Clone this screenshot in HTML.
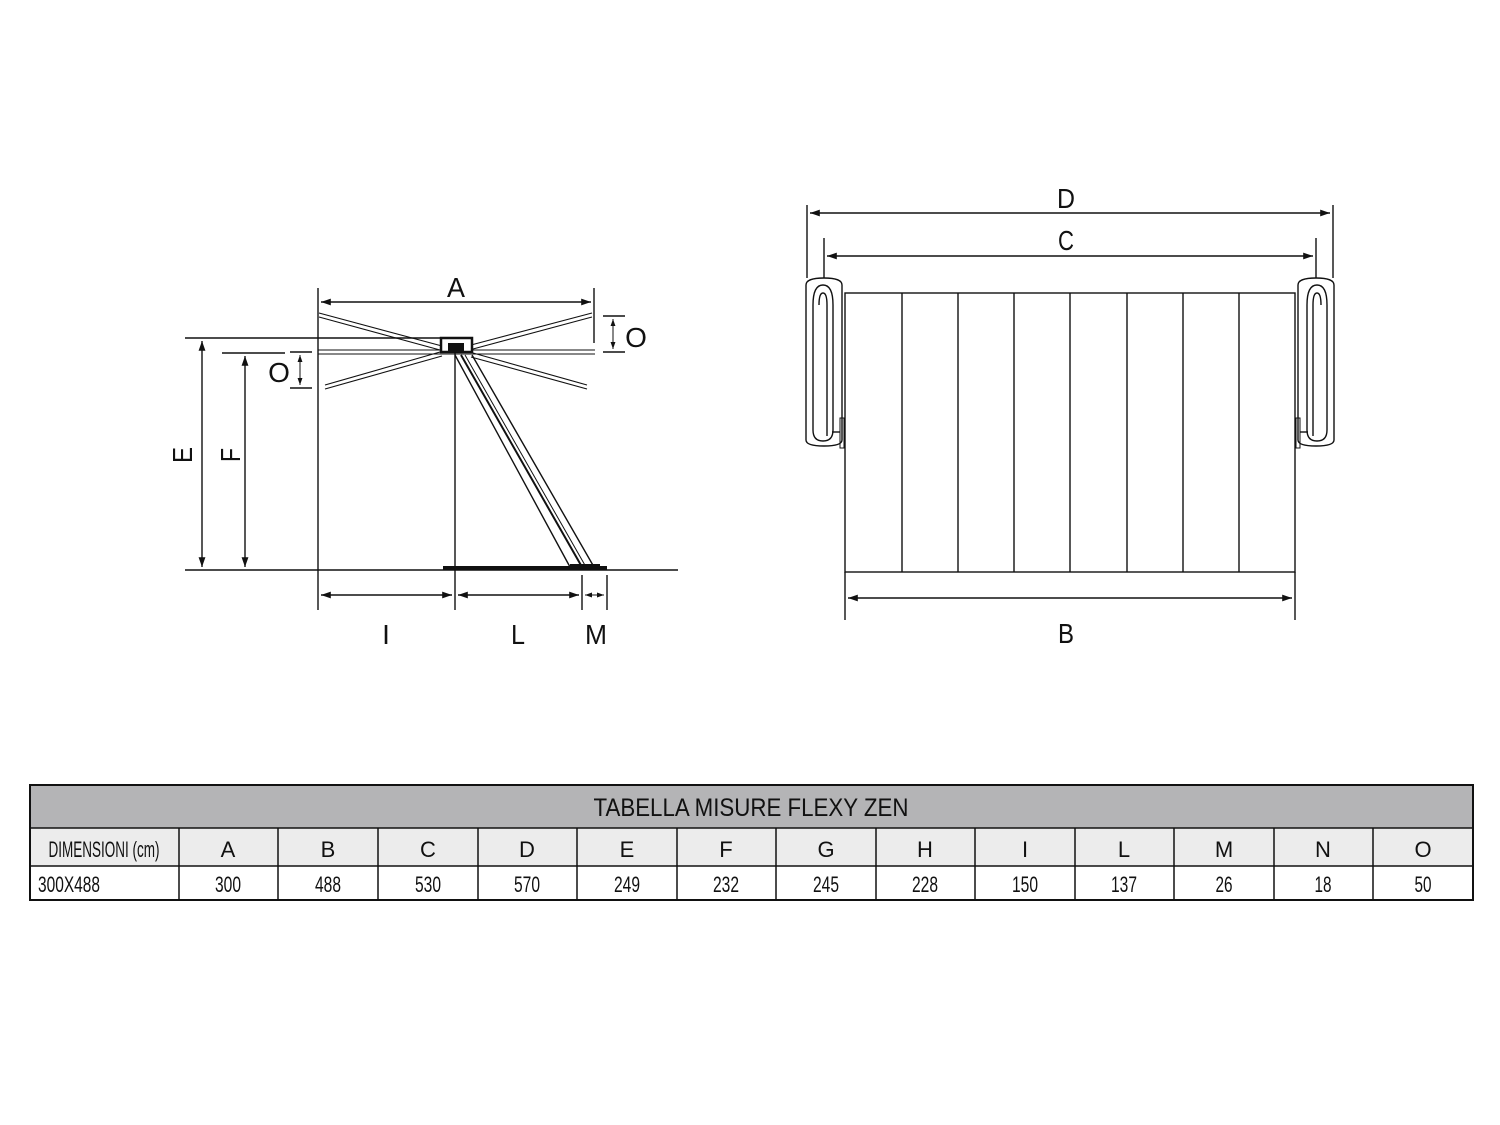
<!DOCTYPE html>
<html><head><meta charset="utf-8"><style>
html,body{margin:0;padding:0;background:#fff;}
svg{display:block}
text{font-family:"Liberation Sans",sans-serif;fill:#111}
</style></head><body>
<svg width="1500" height="1125" viewBox="0 0 1500 1125" xmlns="http://www.w3.org/2000/svg">
<defs>
<marker id="ar" viewBox="0 0 10 10" refX="10" refY="5" markerWidth="7" markerHeight="7" orient="auto-start-reverse"><path d="M0,1.5 L10,5 L0,8.5 z" fill="#111"/></marker>
</defs>
<g stroke="#111" fill="none" stroke-width="1.4">
<!-- LEFT DIAGRAM -->
<line x1="185" y1="570" x2="678" y2="570"/>
<line x1="185" y1="338" x2="440" y2="338"/>
<line x1="222" y1="353" x2="285" y2="353"/>
<line x1="202" y1="341" x2="202" y2="567" marker-start="url(#ar)" marker-end="url(#ar)"/>
<line x1="245" y1="356" x2="245" y2="567" marker-start="url(#ar)" marker-end="url(#ar)"/>
<line x1="318" y1="288" x2="318" y2="610"/>
<line x1="594" y1="288" x2="594" y2="343"/>
<line x1="321" y1="302" x2="591" y2="302" marker-start="url(#ar)" marker-end="url(#ar)"/>
<g stroke-width="1.1">
<line x1="319" y1="313" x2="442" y2="346"/><line x1="319" y1="317" x2="440" y2="350"/>
<line x1="592" y1="313" x2="471" y2="345"/><line x1="592" y1="317" x2="473" y2="349"/>
<line x1="318" y1="350" x2="595" y2="350"/><line x1="318" y1="354" x2="595" y2="354"/>
<line x1="325" y1="385" x2="440" y2="352"/><line x1="325" y1="389" x2="442" y2="356"/>
<line x1="587" y1="385" x2="473" y2="353"/><line x1="587" y1="389" x2="471" y2="357"/>
</g>
<rect x="441" y="338" width="31" height="14" fill="#fff" stroke-width="2.5"/>
<rect x="448" y="343" width="16" height="8" fill="#111" stroke="none"/>
<line x1="455" y1="352" x2="455" y2="610"/>
<line x1="455" y1="355" x2="570" y2="567"/>
<line x1="461" y1="355" x2="582" y2="567" stroke-width="2"/>
<line x1="465" y1="355" x2="586" y2="567" stroke-width="1"/>
<line x1="472" y1="355" x2="594" y2="567"/>
<line x1="443" y1="568" x2="607" y2="568" stroke-width="4"/>
<line x1="570" y1="566" x2="600" y2="566" stroke-width="4"/>
<line x1="603" y1="316" x2="625" y2="316"/><line x1="603" y1="352" x2="625" y2="352"/>
<line x1="613" y1="319" x2="613" y2="349" marker-start="url(#ar)" marker-end="url(#ar)" stroke-width="1"/>
<line x1="290" y1="352" x2="312" y2="352"/><line x1="290" y1="388" x2="312" y2="388"/>
<line x1="300" y1="355" x2="300" y2="385" marker-start="url(#ar)" marker-end="url(#ar)" stroke-width="1"/>
<line x1="582" y1="575" x2="582" y2="610"/><line x1="607" y1="575" x2="607" y2="610"/>
<line x1="321" y1="595" x2="452" y2="595" marker-start="url(#ar)" marker-end="url(#ar)"/>
<line x1="458" y1="595" x2="579" y2="595" marker-start="url(#ar)" marker-end="url(#ar)"/>
<line x1="585" y1="595" x2="604" y2="595" marker-start="url(#ar)" marker-end="url(#ar)" stroke-width="1"/>

<!-- RIGHT DIAGRAM -->
<line x1="807" y1="205" x2="807" y2="278"/><line x1="1333" y1="205" x2="1333" y2="278"/>
<line x1="824" y1="238" x2="824" y2="278"/><line x1="1316" y1="238" x2="1316" y2="278"/>
<line x1="810" y1="213" x2="1330" y2="213" marker-start="url(#ar)" marker-end="url(#ar)"/>
<line x1="827" y1="256" x2="1313" y2="256" marker-start="url(#ar)" marker-end="url(#ar)"/>
<rect x="845" y="293" width="450" height="279"/>
<line x1="902" y1="293" x2="902" y2="572"/><line x1="958" y1="293" x2="958" y2="572"/>
<line x1="1014" y1="293" x2="1014" y2="572"/><line x1="1070" y1="293" x2="1070" y2="572"/>
<line x1="1127" y1="293" x2="1127" y2="572"/><line x1="1183" y1="293" x2="1183" y2="572"/>
<line x1="1239" y1="293" x2="1239" y2="572"/>
<line x1="845" y1="572" x2="845" y2="620"/><line x1="1295" y1="572" x2="1295" y2="620"/>
<line x1="848" y1="598" x2="1292" y2="598" marker-start="url(#ar)" marker-end="url(#ar)"/>
<g id="br">
<path d="M806,285 Q806,278 824,278 Q842,278 842,285 L842,440 Q842,446 824,446 Q806,446 806,440 Z"/>
<path d="M813,305 Q813,285 823,285 Q833,285 833,305 L833,430 Q833,441 823,441 Q813,441 813,430 Z"/>
<path d="M819,305 Q819,293 823,293 Q827,293 827,305 L827,436"/>
<rect x="840" y="418" width="4" height="30" stroke-width="1"/>
<line x1="832" y1="432" x2="840" y2="432"/>
</g>
<use href="#br" transform="translate(2140,0) scale(-1,1)"/>

<!-- TABLE -->
<rect x="30" y="785" width="1443" height="43" fill="#b4b4b6" stroke="none"/>
<rect x="30" y="828" width="1443" height="38" fill="#ececec" stroke="none"/>
<rect x="30" y="785" width="1443" height="115" stroke-width="2"/>
<line x1="30" y1="828" x2="1473" y2="828" stroke-width="1.5"/>
<line x1="30" y1="866" x2="1473" y2="866" stroke-width="1.5"/>
<g stroke-width="1.5">
<line x1="179" y1="828" x2="179" y2="900"/><line x1="278" y1="828" x2="278" y2="900"/>
<line x1="378" y1="828" x2="378" y2="900"/><line x1="478" y1="828" x2="478" y2="900"/>
<line x1="577" y1="828" x2="577" y2="900"/><line x1="677" y1="828" x2="677" y2="900"/>
<line x1="776" y1="828" x2="776" y2="900"/><line x1="876" y1="828" x2="876" y2="900"/>
<line x1="975" y1="828" x2="975" y2="900"/><line x1="1075" y1="828" x2="1075" y2="900"/>
<line x1="1174" y1="828" x2="1174" y2="900"/><line x1="1274" y1="828" x2="1274" y2="900"/>
<line x1="1373" y1="828" x2="1373" y2="900"/>
</g>
</g>

<g font-size="28" text-anchor="middle">
<text x="456" y="297" textLength="18" lengthAdjust="spacingAndGlyphs">A</text>
<text x="636" y="347">O</text>
<text x="279" y="382">O</text>
<text x="386" y="644">I</text>
<text x="518" y="644" textLength="14" lengthAdjust="spacingAndGlyphs">L</text>
<text x="596" y="644" textLength="22" lengthAdjust="spacingAndGlyphs">M</text>
<text transform="translate(192,455) rotate(-90)" textLength="16" lengthAdjust="spacingAndGlyphs">E</text>
<text transform="translate(240,455) rotate(-90)" textLength="14" lengthAdjust="spacingAndGlyphs">F</text>
<text x="1066" y="208" textLength="18" lengthAdjust="spacingAndGlyphs">D</text>
<text x="1066" y="250" textLength="16" lengthAdjust="spacingAndGlyphs">C</text>
<text x="1066" y="643" textLength="16" lengthAdjust="spacingAndGlyphs">B</text>
</g>
<text x="751" y="816" font-size="25" text-anchor="middle" fill="#222" textLength="315" lengthAdjust="spacingAndGlyphs">TABELLA MISURE FLEXY ZEN</text>
<g font-size="22" text-anchor="middle">
<text x="104" y="857" textLength="111" lengthAdjust="spacingAndGlyphs">DIMENSIONI (cm)</text>
<text x="228" y="857">A</text><text x="328" y="857">B</text><text x="428" y="857">C</text>
<text x="527" y="857">D</text><text x="627" y="857">E</text><text x="726" y="857">F</text>
<text x="826" y="857">G</text><text x="925" y="857">H</text><text x="1025" y="857">I</text>
<text x="1124" y="857">L</text><text x="1224" y="857">M</text><text x="1323" y="857">N</text>
<text x="1423" y="857">O</text>
</g>
<g font-size="22" text-anchor="middle">
<text x="69" y="892" textLength="62" lengthAdjust="spacingAndGlyphs">300X488</text>
<text x="228" y="892" textLength="26" lengthAdjust="spacingAndGlyphs">300</text>
<text x="328" y="892" textLength="26" lengthAdjust="spacingAndGlyphs">488</text>
<text x="428" y="892" textLength="26" lengthAdjust="spacingAndGlyphs">530</text>
<text x="527" y="892" textLength="26" lengthAdjust="spacingAndGlyphs">570</text>
<text x="627" y="892" textLength="26" lengthAdjust="spacingAndGlyphs">249</text>
<text x="726" y="892" textLength="26" lengthAdjust="spacingAndGlyphs">232</text>
<text x="826" y="892" textLength="26" lengthAdjust="spacingAndGlyphs">245</text>
<text x="925" y="892" textLength="26" lengthAdjust="spacingAndGlyphs">228</text>
<text x="1025" y="892" textLength="26" lengthAdjust="spacingAndGlyphs">150</text>
<text x="1124" y="892" textLength="26" lengthAdjust="spacingAndGlyphs">137</text>
<text x="1224" y="892" textLength="17" lengthAdjust="spacingAndGlyphs">26</text>
<text x="1323" y="892" textLength="17" lengthAdjust="spacingAndGlyphs">18</text>
<text x="1423" y="892" textLength="17" lengthAdjust="spacingAndGlyphs">50</text>
</g>
</svg>
</body></html>
